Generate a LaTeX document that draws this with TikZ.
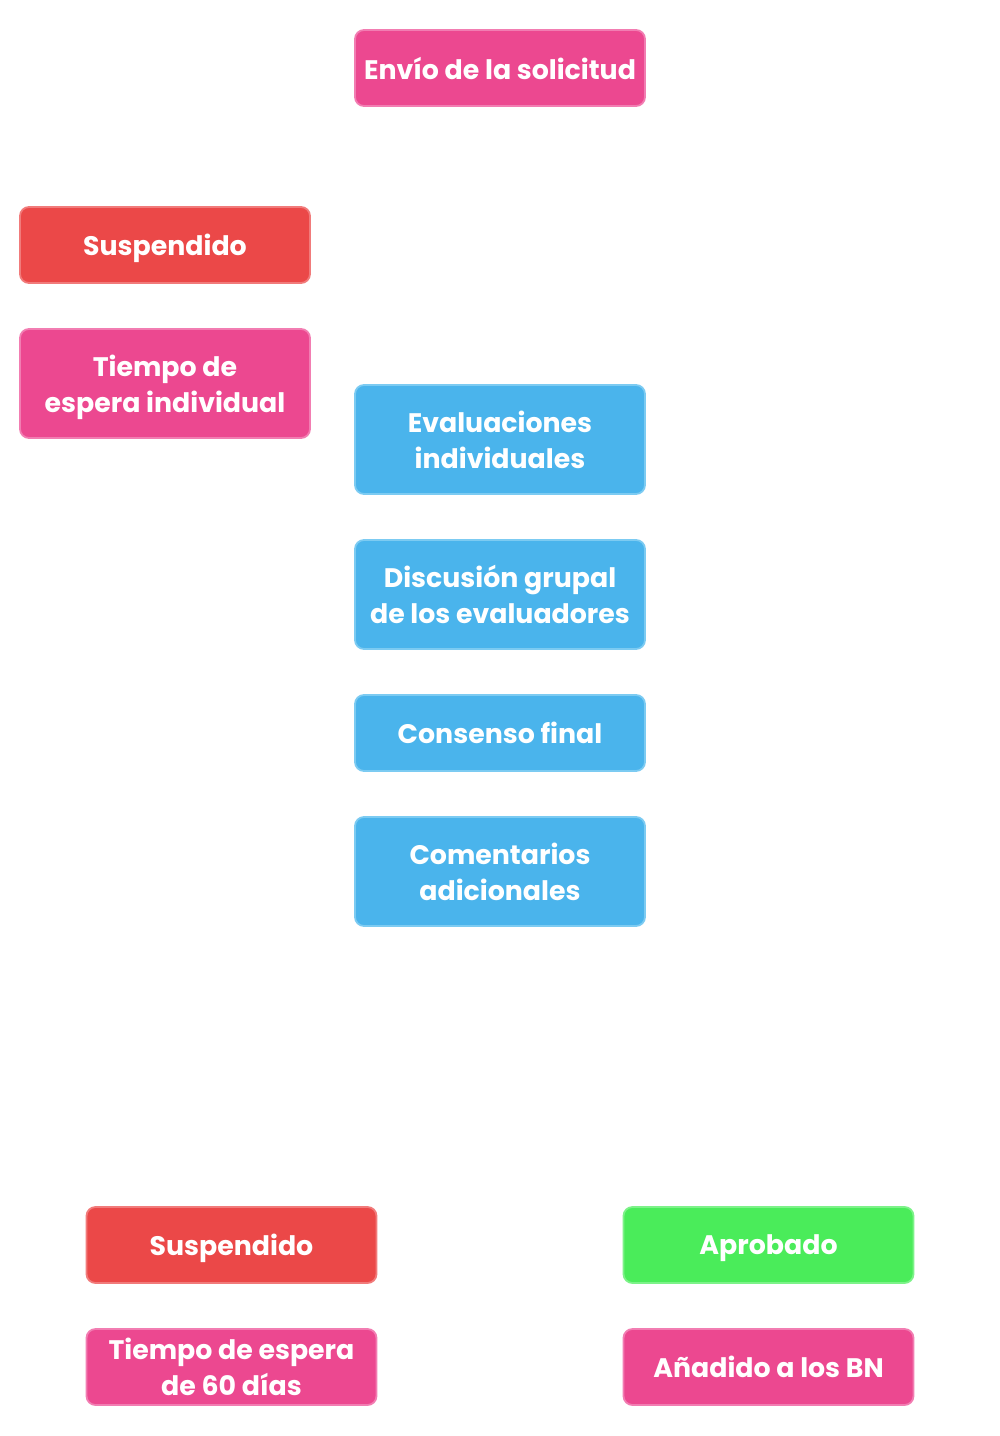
\documentclass[tikz,border=0pt]{standalone}
\usepackage{fontspec}
\setmainfont{Poppins}
\usepackage{tikz}
\usetikzlibrary{positioning}

\definecolor{pinkbox}{HTML}{EC4890}
\definecolor{pinkedge}{HTML}{F27DB2}
\definecolor{redbox}{HTML}{EB4848}
\definecolor{rededge}{HTML}{F17B7B}
\definecolor{bluebox}{HTML}{4AB4EC}
\definecolor{blueedge}{HTML}{7CCBF2}
\definecolor{greenbox}{HTML}{4AEC5A}
\definecolor{greenedge}{HTML}{7DF289}

\begin{document}
\begin{tikzpicture}[
    x=0.5pt, y=-0.5pt,
    node distance=22.1pt,
    card/.style={rectangle, rounded corners=4.5pt, line width=0.9pt, text=white,
      minimum width=145pt, minimum height=38pt, align=center, text depth=0pt,
      font=\bfseries\fontsize{13.4}{18}\selectfont},
    tall/.style={minimum height=54.5pt},
    pinkcard/.style={card, fill=pinkbox, draw=pinkedge},
    redcard/.style={card, fill=redbox, draw=rededge},
    bluecard/.style={card, fill=bluebox, draw=blueedge},
    greencard/.style={card, fill=greenbox, draw=greenedge}
  ]
  \useasboundingbox (0,0) rectangle (1000,1436);

  \node[pinkcard] (envio) at (500,68) {Envío de la solicitud};

  \node[redcard] (susp1) at (165,245) {Suspendido};
  \node[pinkcard, tall] (espera1) [below=of susp1] {Tiempo de\\espera individual};

  \node[bluecard, tall] (evals) at (500,439.5) {Evaluaciones\\individuales};
  \node[bluecard, tall] (discusion) [below=of evals] {Discusión grupal\\de los evaluadores};
  \node[bluecard] (consenso) [below=of discusion] {Consenso final};
  \node[bluecard, tall] (comentarios) [below=of consenso] {Comentarios\\adicionales};

  \node[redcard] (susp2) at (231.5,1245) {Suspendido};
  \node[pinkcard] (espera2) [below=of susp2] {Tiempo de espera\\de 60 días};

  \node[greencard] (aprobado) at (768.5,1245) {Aprobado};
  \node[pinkcard] (anadido) [below=of aprobado] {Añadido a los BN};

\end{tikzpicture}
\end{document}
